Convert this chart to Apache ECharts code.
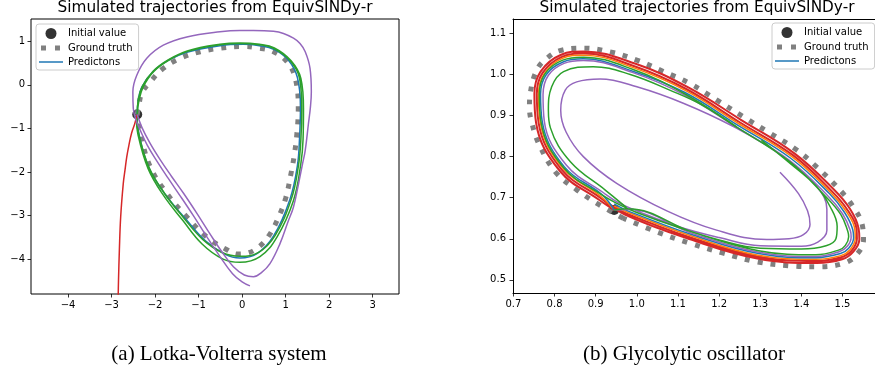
<!DOCTYPE html>
<html><head><meta charset="utf-8">
<script src="https://cdn.jsdelivr.net/npm/echarts@6/dist/echarts.min.js"></script>
<style>html,body{margin:0;padding:0;background:#fff}#c{width:875px;height:379px}</style>
</head><body><div id="c"></div>
<script>
// ---------- tick labels ----------
const lvXTicks = [-4, -3, -2, -1, 0, 1, 2, 3];
const lvYTicks = [-4, -3, -2, -1, 0, 1];
const glyXTicks = [0.7, 0.8, 0.9, 1.0, 1.1, 1.2, 1.3, 1.4, 1.5];
const glyYTicks = [0.5, 0.6, 0.7, 0.8, 0.9, 1.0, 1.1];

// ---------- (a) Lotka-Volterra ----------
const lvInitial = [[-2.41, -0.68]];
const lvTruth = [[-2.41,-0.68],[-2.37,-0.45],[-2.30,-0.18],[-2.11,0.07],[-1.81,0.38],[-1.42,0.61],[-0.96,0.76],[-0.51,0.84],[0.03,0.88],[0.34,0.85],[0.72,0.76],[1.03,0.53],[1.22,0.15],[1.29,-0.54],[1.26,-1.10],[1.20,-1.60],[1.12,-2.05],[1.00,-2.60],[0.83,-3.05],[0.62,-3.45],[0.38,-3.72],[0.11,-3.86],[-0.10,-3.88],[-0.35,-3.78],[-0.81,-3.49],[-1.27,-3.03],[-1.73,-2.49],[-2.11,-1.88],[-2.34,-1.11],[-2.41,-0.68]];
const lvBlue = [[-2.41,-0.68],[-2.39,-0.38],[-2.31,-0.06],[-2.06,0.29],[-1.70,0.56],[-1.27,0.75],[-0.51,0.90],[0.03,0.93],[0.40,0.90],[0.74,0.81],[1.06,0.57],[1.27,0.17],[1.34,-0.52],[1.32,-1.20],[1.27,-1.85],[1.10,-2.62],[0.72,-3.47],[0.34,-3.87],[-0.05,-3.97],[-0.40,-3.88],[-0.85,-3.57],[-1.30,-3.07],[-1.76,-2.52],[-2.14,-1.90],[-2.37,-1.13],[-2.42,-0.68]];
const lvGreen = [[-2.41,-0.68],[-2.37,-0.36],[-2.27,-0.04],[-2.03,0.31],[-1.68,0.57],[-1.25,0.77],[-0.51,0.92],[-0.05,0.95],[0.40,0.92],[0.72,0.84],[1.10,0.56],[1.32,0.15],[1.37,-0.54],[1.35,-1.25],[1.29,-1.88],[1.13,-2.62],[0.76,-3.45],[0.38,-3.84],[-0.05,-3.93],[-0.45,-3.85],[-0.90,-3.55],[-1.35,-3.04],[-1.78,-2.49],[-2.14,-1.89],[-2.37,-1.14],[-2.41,-0.70],
  [-2.39,-0.36],[-2.29,-0.03],[-2.04,0.32],[-1.69,0.58],[-1.26,0.78],[-0.51,0.93],[-0.05,0.96],[0.40,0.93],[0.74,0.85],[1.12,0.56],[1.35,0.15],[1.41,-0.54],[1.40,-1.25],[1.35,-1.80],[1.18,-2.65],[0.80,-3.49],[0.41,-3.94],[-0.05,-4.07],[-0.45,-3.99],[-0.92,-3.65],[-1.37,-3.10],[-1.81,-2.53],[-2.16,-1.92],[-2.39,-1.15],[-2.43,-0.72]];
const lvRed = [[-2.41,-0.68],[-2.47,-0.90],[-2.54,-1.11],[-2.60,-1.38],[-2.65,-1.65],[-2.69,-1.95],[-2.73,-2.26],[-2.79,-3.03],[-2.82,-3.79],[-2.84,-4.50],[-2.85,-5.00]];
const lvPurple = [[-2.41,-0.68],[-2.30,-0.98],[-2.12,-1.33],[-1.88,-1.72],[-1.62,-2.10],[-1.35,-2.48],[-1.05,-2.93],[-0.75,-3.40],[-0.45,-3.85],[-0.20,-4.17],[0.05,-4.36],[0.26,-4.40],[0.45,-4.30],[0.64,-4.10],[0.87,-3.64],[1.05,-3.15],[1.18,-2.80],[1.30,-2.25],[1.38,-1.85],[1.45,-1.50],[1.52,-0.92],[1.57,-0.50],[1.59,-0.16],[1.56,0.38],[1.45,0.76],[1.33,0.95],[1.18,1.07],[0.95,1.18],[0.72,1.23],[0.26,1.25],[-0.05,1.25],[-0.51,1.22],[-1.27,1.10],[-1.81,0.91],[-2.19,0.61],[-2.42,0.22],[-2.51,-0.16],[-2.50,-0.54],[-2.44,-0.80],[-2.35,-1.02],[-2.18,-1.38],[-1.95,-1.76],[-1.70,-2.14],[-1.42,-2.55],[-1.12,-3.00],[-0.82,-3.47],[-0.52,-3.92],[-0.22,-4.33],[0.00,-4.52],[0.18,-4.61]];

// ---------- (b) Glycolytic oscillator ----------
const glyInitial = [[0.945, 0.670]];
const glyTruth = [[0.967,0.650],[0.903,0.686],[0.854,0.719],[0.805,0.759],[0.765,0.824],[0.745,0.881],[0.739,0.921],[0.741,0.954],[0.757,1.011],[0.781,1.039],[0.813,1.058],[0.870,1.064],[0.935,1.055],[1.000,1.035],[1.065,1.007],[1.129,0.978],[1.194,0.938],[1.259,0.897],[1.324,0.857],[1.389,0.816],[1.437,0.775],[1.486,0.727],[1.526,0.678],[1.549,0.629],[1.551,0.597],[1.534,0.561],[1.502,0.540],[1.437,0.532],[1.372,0.534],[1.291,0.544],[1.210,0.565],[1.129,0.589],[1.048,0.617],[0.967,0.650]];
const glyRed = [[0.945,0.670],[0.908,0.695],[0.813,0.765],[0.755,0.883],[0.751,0.953],[0.766,1.007],[0.816,1.048],[0.870,1.056],[0.997,1.026],[1.124,0.969],[1.254,0.889],[1.383,0.808],[1.479,0.720],[1.518,0.673],[1.539,0.626],[1.541,0.599],[1.526,0.568],[1.499,0.550],[1.437,0.541],[1.293,0.552],[1.132,0.598],[0.971,0.659],
  [0.911,0.700],[0.817,0.769],[0.761,0.884],[0.757,0.953],[0.771,1.004],[0.818,1.043],[0.870,1.051],[0.994,1.020],[1.121,0.964],[1.251,0.883],[1.380,0.803],[1.474,0.716],[1.513,0.669],[1.534,0.624],[1.535,0.600],[1.522,0.571],[1.497,0.555],[1.436,0.546],[1.294,0.557],[1.134,0.602],[0.974,0.662],[0.930,0.686]];
const glyOrange = [[0.945,0.670],[0.913,0.703],[0.820,0.772],[0.765,0.885],[0.761,0.952],[0.775,1.002],[0.819,1.039],[0.870,1.047],[0.993,1.016],[1.120,0.960],[1.248,0.880],[1.377,0.800],[1.471,0.713],[1.509,0.667],[1.530,0.623],[1.531,0.601],[1.519,0.574],[1.496,0.559],[1.436,0.550],[1.295,0.560],[1.135,0.606],[0.976,0.665],[0.945,0.680]];
const glyBlue = [[0.945,0.670],[0.916,0.707],[0.824,0.775],[0.770,0.886],[0.766,0.952],[0.780,1.000],[0.822,1.031],[0.870,1.038],[0.990,1.008],[1.117,0.956],[1.246,0.876],[1.374,0.796],[1.468,0.710],[1.505,0.664],[1.525,0.622],[1.527,0.602],[1.515,0.577],[1.495,0.564],[1.436,0.554],[1.296,0.564],[1.137,0.609],[0.978,0.668],[0.945,0.685]];
const glyPurple = [[1.348,0.762],[1.393,0.710],[1.415,0.668],[1.421,0.635],[1.405,0.610],[1.370,0.600],[1.316,0.598],[1.194,0.621],[1.073,0.668],[0.951,0.735],[0.870,0.800],[0.828,0.860],[0.815,0.913],[0.826,0.962],[0.854,0.982],[0.911,0.989],[1.000,0.970],[1.113,0.930],[1.235,0.873],[1.356,0.800],[1.437,0.727],[1.462,0.672],[1.462,0.620],[1.440,0.592],[1.400,0.582],[1.300,0.583],[1.200,0.603],[1.100,0.630],[1.000,0.668],[0.955,0.688],
  [0.919,0.712],[0.829,0.779],[0.775,0.887],[0.772,0.951],[0.785,0.998],[0.823,1.027],[0.870,1.034],[0.989,1.005],[1.114,0.951],[1.243,0.871],[1.371,0.791],[1.463,0.706],[1.500,0.661],[1.519,0.620],[1.521,0.604],[1.511,0.581],[1.493,0.569],[1.435,0.557],[1.297,0.567],[1.138,0.612],[0.980,0.671],[0.945,0.670]];
const glyGreen = [[1.303,0.840],[1.372,0.784],[1.437,0.727],[1.470,0.678],[1.487,0.630],[1.484,0.600],[1.460,0.583],[1.400,0.575],[1.300,0.577],[1.200,0.597],[1.100,0.628],[1.000,0.664],[0.960,0.682],
  [0.916,0.706],[0.822,0.773],[0.767,0.885],[0.763,0.952],[0.777,1.002],[0.820,1.035],[0.870,1.042],[0.991,1.012],[1.116,0.953],[1.243,0.872],[1.370,0.789],[1.459,0.703],[1.496,0.659],[1.513,0.618],[1.515,0.605],[1.507,0.584],[1.492,0.573],[1.435,0.561],[1.296,0.571],[1.137,0.616],[0.978,0.673],[0.945,0.670]];
const glyGreenInner = [[0.975,0.676],[0.924,0.718],[0.839,0.787],[0.790,0.870],[0.785,0.913],[0.793,0.970],[0.822,1.007],[0.894,1.019],[0.984,1.000],[1.080,0.962],[1.160,0.925],[1.243,0.872]];

const C = {blue:'#1f77b4', orange:'#ff7f0e', green:'#2ca02c', red:'#d62728', purple:'#9467bd', grey:'#808080'};
const minus = v => (v < 0 ? '\u2212' + Math.abs(v) : String(v));

function line(name, data, color, gi, width, extra) {
  return Object.assign({
    name: name, type: 'line', xAxisIndex: gi, yAxisIndex: gi, data: data,
    smooth: 0.4, symbol: 'none', showSymbol: false, silent: true,
    lineStyle: {color: color, width: width || 1.5}, itemStyle: {color: color}
  }, extra || {});
}
function truth(data, gi) {
  return line('Ground truth', data, C.grey, gi, 5, {lineStyle: {color: C.grey, width: 5, type: [5, 8], cap: 'butt'}});
}
function init(data, gi) {
  return {name: 'Initial value', type: 'scatter', xAxisIndex: gi, yAxisIndex: gi, data: data,
    symbol: 'circle', symbolSize: 10, itemStyle: {color: '#000'}, silent: true};
}
const tickFont = {fontSize: 10, color: '#000', fontFamily: 'DejaVu Sans'};
function axis(gi, min, max, ticks, fmt, margin, showLine) {
  return {
    gridIndex: gi, type: 'value', min: min, max: max,
    axisLine: {show: !!showLine, onZero: false, lineStyle: {color: '#000', width: 1}}, splitLine: {show: false},
    axisTick: {show: true, length: 3.5, customValues: ticks, lineStyle: {color: '#000', width: 0.8}},
    axisLabel: Object.assign({customValues: ticks, formatter: fmt, margin: margin}, tickFont)
  };
}
const gtIcon = 'path://M0,2.5 h0.01 v0.01 h-0.01 Z M2,0 h5 v5 h-5 Z M16,0 h5 v5 h-5 Z M24,2.5 h0.01 v0.01 h-0.01 Z';
const predIcon = 'path://M0,0 h24 v1.5 h-24 Z';
function legend(left, top) {
  return {
    orient: 'vertical', left: left, top: top, itemWidth: 24, itemHeight: 11, itemGap: 4,
    padding: [4, 6, 3, 3], backgroundColor: 'rgba(255,255,255,0.8)', borderColor: '#cccccc',
    borderWidth: 1, borderRadius: 3, selectedMode: false,
    textStyle: {fontSize: 10, fontFamily: 'DejaVu Sans', color: '#000'},
    data: [
      {name: 'Initial value', icon: 'circle', itemStyle: {color: '#000'}},
      {name: 'Ground truth', icon: gtIcon, itemStyle: {color: C.grey}},
      {name: 'Predictons', icon: predIcon, itemStyle: {color: C.blue}}
    ]
  };
}

const GX = [0.699, 1.579];
const chart = echarts.init(document.getElementById('c'), null, {renderer: 'canvas'});
chart.setOption({
  animation: false,
  backgroundColor: '#fff',
  grid: [
    {left: 31, top: 19, width: 368, height: 275, show: true, borderColor: '#000', borderWidth: 1, backgroundColor: 'transparent'},
    {left: 513, top: 19, width: 362, height: 274, show: false}
  ],
  xAxis: [
    axis(0, -4.85, 3.604, lvXTicks, minus, 6),
    axis(1, GX[0], GX[1], glyXTicks, v => v.toFixed(1), 6, true),
    {gridIndex: 1, type: 'value', position: 'top', min: GX[0], max: GX[1],
     axisLine: {show: true, onZero: false, lineStyle: {color: '#000', width: 1}},
     axisTick: {show: false}, axisLabel: {show: false}, splitLine: {show: false}}
  ],
  yAxis: [
    axis(0, -4.796, 1.511, lvYTicks, minus, 6),
    axis(1, 0.468, 1.135, glyYTicks, v => v.toFixed(1), 7, true)
  ],
  legend: [legend(36, 24), legend(772, 23)],
  series: [
    init(lvInitial, 0),
    truth(lvTruth, 0),
    line('Predictons', lvBlue, C.blue, 0),
    line('lv-green', lvGreen, C.green, 0),
    line('lv-red', lvRed, C.red, 0),
    line('lv-purple', lvPurple, C.purple, 0),
    init(glyInitial, 1),
    truth(glyTruth, 1),
    line('gly-red', glyRed, C.red, 1, 2),
    line('gly-orange', glyOrange, C.orange, 1),
    line('Predictons', glyBlue, C.blue, 1),
    line('gly-purple', glyPurple, C.purple, 1),
    line('gly-green', glyGreen, C.green, 1),
    line('gly-green-inner', glyGreenInner, C.green, 1)
  ],
  graphic: [
    {type: 'text', x: 215, y: 8, style: {text: 'Simulated trajectories from EquivSINDy-r', fontSize: 15.3, fontFamily: 'DejaVu Sans', fill: '#000', align: 'center', verticalAlign: 'middle'}},
    {type: 'text', x: 697, y: 8, style: {text: 'Simulated trajectories from EquivSINDy-r', fontSize: 15.3, fontFamily: 'DejaVu Sans', fill: '#000', align: 'center', verticalAlign: 'middle'}},
    {type: 'text', x: 219, y: 354, style: {text: '(a) Lotka-Volterra system', fontSize: 21, fontFamily: 'Liberation Serif', fill: '#000', align: 'center', verticalAlign: 'middle'}},
    {type: 'text', x: 684, y: 354, style: {text: '(b) Glycolytic oscillator', fontSize: 21, fontFamily: 'Liberation Serif', fill: '#000', align: 'center', verticalAlign: 'middle'}}
  ]
});
</script></body></html>
